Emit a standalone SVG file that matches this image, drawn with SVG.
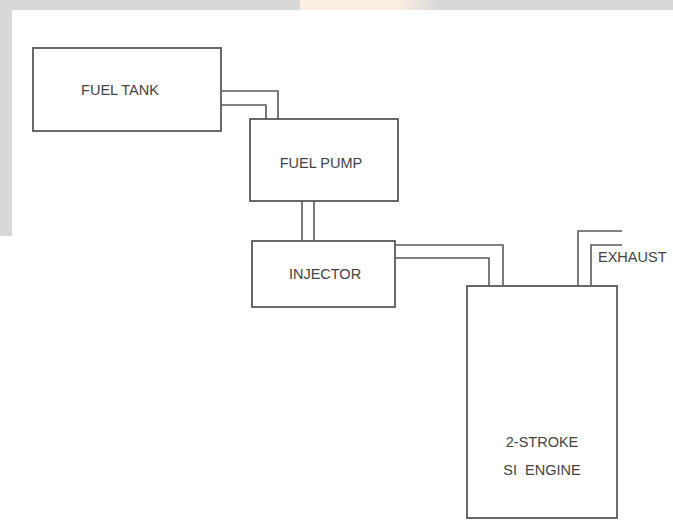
<svg xmlns="http://www.w3.org/2000/svg" width="673" height="526" viewBox="0 0 673 526">
  <style>
    .box { fill: #ffffff; stroke: #5a5a5a; stroke-width: 1.8; }
    .pipe { fill: none; stroke: #5a5a5a; stroke-width: 1.6; }
    .lbl { font-family: "Liberation Sans", Arial, sans-serif; font-size: 14.5px; fill: #444444; text-anchor: middle; white-space: pre; }
  </style>
  <defs>
    <linearGradient id="wm" x1="0" y1="0" x2="1" y2="0">
      <stop offset="0" stop-color="#fbeee3"/>
      <stop offset="0.7" stop-color="#fbeee3"/>
      <stop offset="1" stop-color="#d8d8d8"/>
    </linearGradient>
  </defs>
  <rect x="0" y="0" width="673" height="526" fill="#ffffff"/>
  <g id="background">
    <rect x="0" y="0" width="673" height="10" fill="#d8d8d8"/>
    <rect x="0" y="0" width="12" height="236" fill="#d8d8d8"/>
    <rect x="300" y="0" width="140" height="10" fill="url(#wm)"/>
  </g>
  <g id="connectors">
    <polyline class="pipe" points="221,91 278,91 278,119"/>
    <polyline class="pipe" points="221,105 266,105 266,119"/>
    <line class="pipe" x1="302" y1="201" x2="302" y2="241"/>
    <line class="pipe" x1="314" y1="201" x2="314" y2="241"/>
    <polyline class="pipe" points="395,245 503,245 503,286"/>
    <polyline class="pipe" points="395,258 489,258 489,286"/>
    <polyline class="pipe" points="578,286 578,231 622,231"/>
    <polyline class="pipe" points="591,286 591,245 622,245"/>
  </g>
  <g id="fuel-tank">
    <rect class="box" x="33" y="48" width="188" height="83"/>
    <text class="lbl" x="120" y="95">FUEL TANK</text>
  </g>
  <g id="fuel-pump">
    <rect class="box" x="250" y="119" width="148" height="82"/>
    <text class="lbl" x="321" y="168">FUEL PUMP</text>
  </g>
  <g id="injector">
    <rect class="box" x="252" y="241" width="143" height="66"/>
    <text class="lbl" x="325" y="279">INJECTOR</text>
  </g>
  <g id="engine">
    <rect class="box" x="467" y="286" width="150" height="232"/>
    <text class="lbl" x="542" y="447">2-STROKE</text>
    <text class="lbl" x="542" y="475" xml:space="preserve">SI  ENGINE</text>
  </g>
  <g id="exhaust-label">
    <text class="lbl" x="598" y="262" style="text-anchor:start">EXHAUST</text>
  </g>
</svg>
